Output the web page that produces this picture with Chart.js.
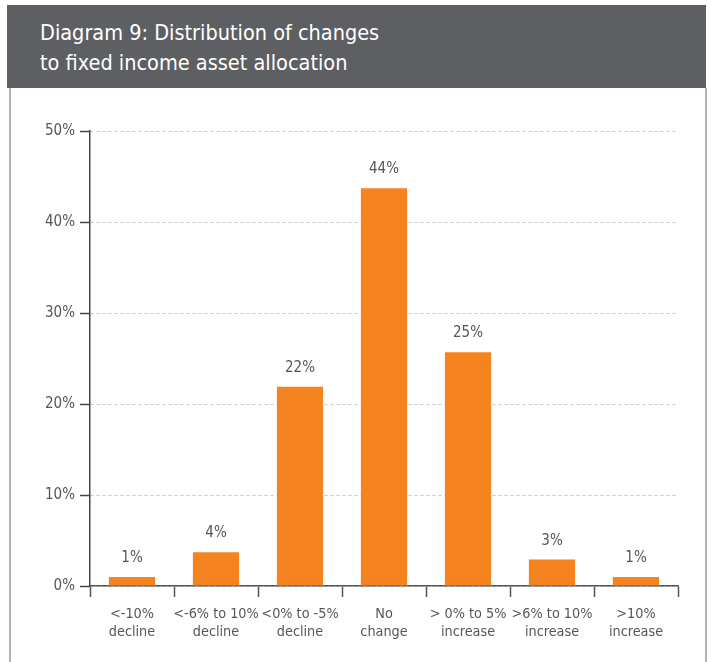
<!DOCTYPE html>
<html>
<head>
<meta charset="utf-8">
<script src="https://cdn.jsdelivr.net/npm/chart.js@4"></script>
<style>
    body { margin: 0; background: #fff; width: 711px; height: 662px; overflow: hidden; position: relative; font-family: "DejaVu Sans Condensed", sans-serif; }
    #header { position: absolute; left: 7px; top: 5px; width: 699px; height: 83px; background: #5e5f63; }
    #header h1 { margin: 0; position: absolute; left: 33px; top: 13px; color: #fff; font-weight: normal; font-size: 21.5px; line-height: 30px; }
    #panel { position: absolute; left: 9px; top: 88px; width: 694px; height: 580px; border-left: 2px solid #b5b5b5; border-right: 2px solid #b5b5b5; }
    #chartBox { position: absolute; left: 0; top: 88px; width: 711px; height: 574px; }
</style>
</head>
<body>
<div id="header"><h1>Diagram 9: Distribution of changes<br>to fixed income asset allocation</h1></div>
<div id="panel"></div>
<div id="chartBox"><canvas id="changesChart"></canvas></div>
<script>
var categories = [
    [`<-10%`, `decline`],
    [`<-6% to 10%`, `decline`],
    [`<0% to -5%`, `decline`],
    [`No`, `change`],
    [`> 0% to 5%`, `increase`],
    [`>6% to 10%`, `increase`],
    [`>10%`, `increase`]
]
var shares = [1.0, 3.7, 21.9, 43.7, 25.7, 2.9, 1.0]
var shareLabels = [`1%`, `4%`, `22%`, `44%`, `25%`, `3%`, `1%`]
var yTicks = [0, 10, 20, 30, 40, 50]

var fontName = `"DejaVu Sans Condensed", sans-serif`
var textGrey = `#555658`

//value labels above each bar
var barLabels = {
    id: `barLabels`,
    afterDatasetsDraw(chart){
        var ctx = chart.ctx
        var bars = chart.getDatasetMeta(0).data
        ctx.save()
        ctx.font = `15px ${fontName}`
        ctx.fillStyle = textGrey
        ctx.textAlign = `center`
        ctx.textBaseline = `middle`
        for(var pos = 0; pos < bars.length; pos++){
            ctx.fillText(shareLabels[pos], bars[pos].x, bars[pos].y - 19)
        }
        ctx.restore()
    }
}

new Chart(document.getElementById(`changesChart`), {
    type: `bar`,
    data: {
        labels: categories,
        datasets: [{
            data: shares,
            backgroundColor: `#f5831f`,
            barPercentage: 0.55,
            categoryPercentage: 1
        }]
    },
    options: {
        responsive: true,
        maintainAspectRatio: false,
        animation: false,
        layout: {
            padding: { top: 43, right: 33, left: 0, bottom: 0 }
        },
        plugins: {
            legend: { display: false },
            tooltip: { enabled: false }
        },
        scales: {
            x: {
                afterFit(scale){ scale.height = 76 },
                grid: {
                    drawOnChartArea: false,
                    offset: true,
                    tickLength: 11,
                    tickColor: `#555`,
                    tickWidth: 1.5
                },
                border: { color: `#555`, width: 1.5 },
                ticks: {
                    padding: 8,
                    color: textGrey,
                    font: { family: fontName, size: 14.3, lineHeight: 1.25 },
                    maxRotation: 0,
                    autoSkip: false
                }
            },
            y: {
                min: 0,
                max: 50,
                afterFit(scale){ scale.width = 90 },
                afterBuildTicks(scale){
                    scale.ticks = yTicks.map((v) => ({ value: v }))
                },
                grid: {
                    color: `#c6c6c6`,
                    lineWidth: 1,
                    tickLength: 10,
                    tickColor: `#444`,
                    tickWidth: 1.5,
                    tickBorderDash: []
                },
                border: { color: `#444`, width: 1.5, dash: [3, 3] },
                ticks: {
                    padding: 5,
                    color: textGrey,
                    font: { family: fontName, size: 15 },
                    callback: (value) => `${value}%`
                }
            }
        }
    },
    plugins: [barLabels]
})
</script>
</body>
</html>
